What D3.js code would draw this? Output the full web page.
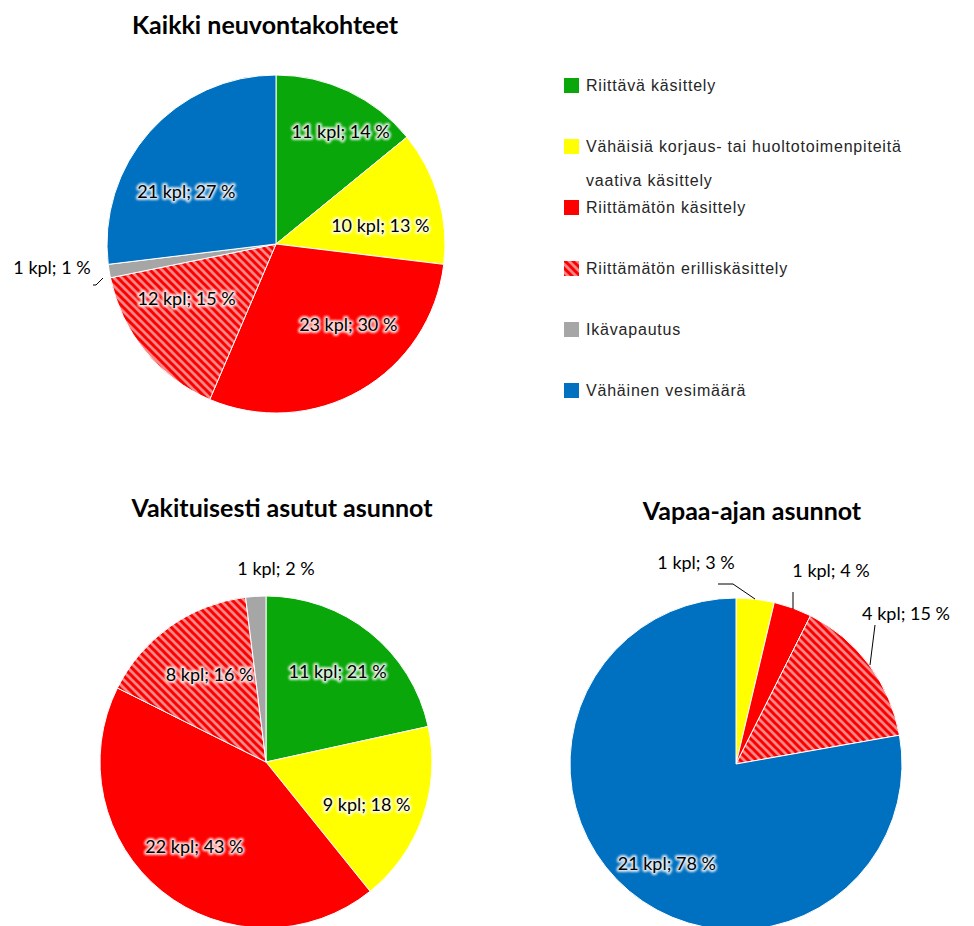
<!DOCTYPE html>
<html><head><meta charset="utf-8">
<script src="https://cdn.jsdelivr.net/npm/d3@7"></script>
<style>body{margin:0;background:#fff}svg{display:block}</style>
</head><body>
<script>
const categories = ["Riittävä käsittely","Vähäisiä korjaus- tai huoltotoimenpiteitä vaativa käsittely","Riittämätön käsittely","Riittämätön erilliskäsittely","Ikävapautus","Vähäinen vesimäärä"];
const titles = ["Kaikki neuvontakohteet","Vakituisesti asutut asunnot","Vapaa-ajan asunnot"];
const countsAll = [11,10,23,12,1,21];
const pctAll = [14,13,30,15,1,27];
const countsPerm = [11,9,22,8,1,0];
const pctPerm = [21,18,43,16,2,0];
const countsLeisure = [0,1,1,4,0,21];
const pctLeisure = [0,3,4,15,0,78];

const W=974,H=926;
const svg=d3.select("body").append("svg").attr("width",W).attr("height",H);
const defs=svg.append("defs");
const pat=defs.append("pattern").attr("id","hatch").attr("patternUnits","userSpaceOnUse").attr("width",8).attr("height",8);
pat.append("rect").attr("width",8).attr("height",8).attr("fill","#f58888");
pat.append("path").attr("d","M-1,-1 L9,9 M-5,3 L5,13 M3,-5 L13,5").attr("stroke","#ff0000").attr("stroke-width",3);
defs.append("filter").attr("id","soft").attr("x","-20%").attr("y","-50%").attr("width","140%").attr("height","200%")
  .append("feGaussianBlur").attr("stdDeviation",1.3);

const fills=["#0aa70a","#ffff00","#ff0000","url(#hatch)","#a6a6a6","#0070c0"];
const color=d3.scaleOrdinal().domain(categories).range(fills);
const labelFont="Lato, 'Open Sans', sans-serif";
const LS=18;

const charts=[
 {counts:countsAll,pct:pctAll,cx:276,cy:244,r:169,tx:265,ty:34,
  nudge:[[19,-16],[2,12],[19,-11],[-7,-12],null,[-10,19]],
  outside:{4:{lx:52,ly:274,path:[[103,278],[96,285],[93,285]]}}},
 {counts:countsPerm,pct:pctPerm,cx:266,cy:762,r:166,tx:282,ty:517,
  nudge:[[6,-9],[2,8],[-6,4],[4,-2],null,null],
  outside:{4:{lx:276,ly:575,path:null}}},
 {counts:countsLeisure,pct:pctLeisure,cx:736,cy:764,r:166,tx:752,ty:520,
  nudge:[null,null,null,null,null,[-2,20]],
  outside:{1:{lx:696,ly:569,path:[[755,599],[733,584],[718,584]]},
           2:{lx:831,ly:577,path:[[793,609],[793,592]]},
           3:{lx:906,ly:620,path:[[870,665],[875,625]]}}}
];

const pie=d3.pie().sort(null).value(d=>d.v);
charts.forEach((c,ci)=>{
  const data=categories.map((k,i)=>({k,i,v:c.counts[i],p:c.pct[i]}));
  const arcs=pie(data);
  const g=svg.append("g").attr("transform",`translate(${c.cx},${c.cy})`);
  const arc=d3.arc().innerRadius(0).outerRadius(c.r);
  const lab=d3.arc().innerRadius(c.r*0.63).outerRadius(c.r*0.63);
  g.selectAll("path.s").data(arcs.filter(a=>a.data.v>0)).join("path").attr("class","s")
   .attr("d",arc).attr("fill",d=>color(d.data.k)).attr("stroke","#fff").attr("stroke-width",1);
  arcs.filter(a=>a.data.v>0).forEach(a=>{
    const txt=`${a.data.v} kpl; ${a.data.p} %`;
    const o=c.outside[a.data.i];
    if(o){
      if(o.path) svg.append("path").attr("d",d3.line()(o.path)).attr("fill","none").attr("stroke","#000").attr("stroke-width",1);
      svg.append("text").attr("x",o.lx).attr("y",o.ly).attr("text-anchor","middle")
        .attr("font-family",labelFont).attr("font-size",LS).attr("fill","#000").text(txt);
    } else {
      const [x,y]=lab.centroid(a); const n=c.nudge[a.data.i]||[0,0];
      const X=x+n[0], Y=y+n[1]+6;
      g.append("text").attr("x",X).attr("y",Y).attr("text-anchor","middle")
        .attr("font-family",labelFont).attr("font-size",LS).attr("fill","#fff")
        .attr("stroke","#fff").attr("stroke-width",4).attr("stroke-linejoin","round")
        .attr("opacity",0.85).attr("filter","url(#soft)").text(txt);
      g.append("text").attr("x",X).attr("y",Y).attr("text-anchor","middle")
        .attr("font-family",labelFont).attr("font-size",LS).attr("fill","#000").text(txt);
    }
  });
  svg.append("text").attr("x",c.tx).attr("y",c.ty).attr("text-anchor","middle")
    .attr("font-family",labelFont).attr("font-weight","bold").attr("font-size",25).attr("fill","#000").text(titles[ci]);
});

const legY=[85,146,207,268,329,390];
const lg=svg.append("g");
categories.forEach((k,i)=>{
  lg.append("rect").attr("x",564).attr("y",legY[i]-7).attr("width",15).attr("height",15).attr("fill",color(k));
  const t=lg.append("text").attr("x",586).attr("y",legY[i]+6).attr("font-family","'Liberation Sans', Arial, sans-serif")
    .attr("font-size",16).attr("letter-spacing",0.8).attr("fill","#262626");
  if(i===1){
    t.append("tspan").attr("x",586).text("Vähäisiä korjaus- tai huoltotoimenpiteitä");
    t.append("tspan").attr("x",586).attr("dy",34).text("vaativa käsittely");
  } else t.text(k);
});
</script>
</body></html>
